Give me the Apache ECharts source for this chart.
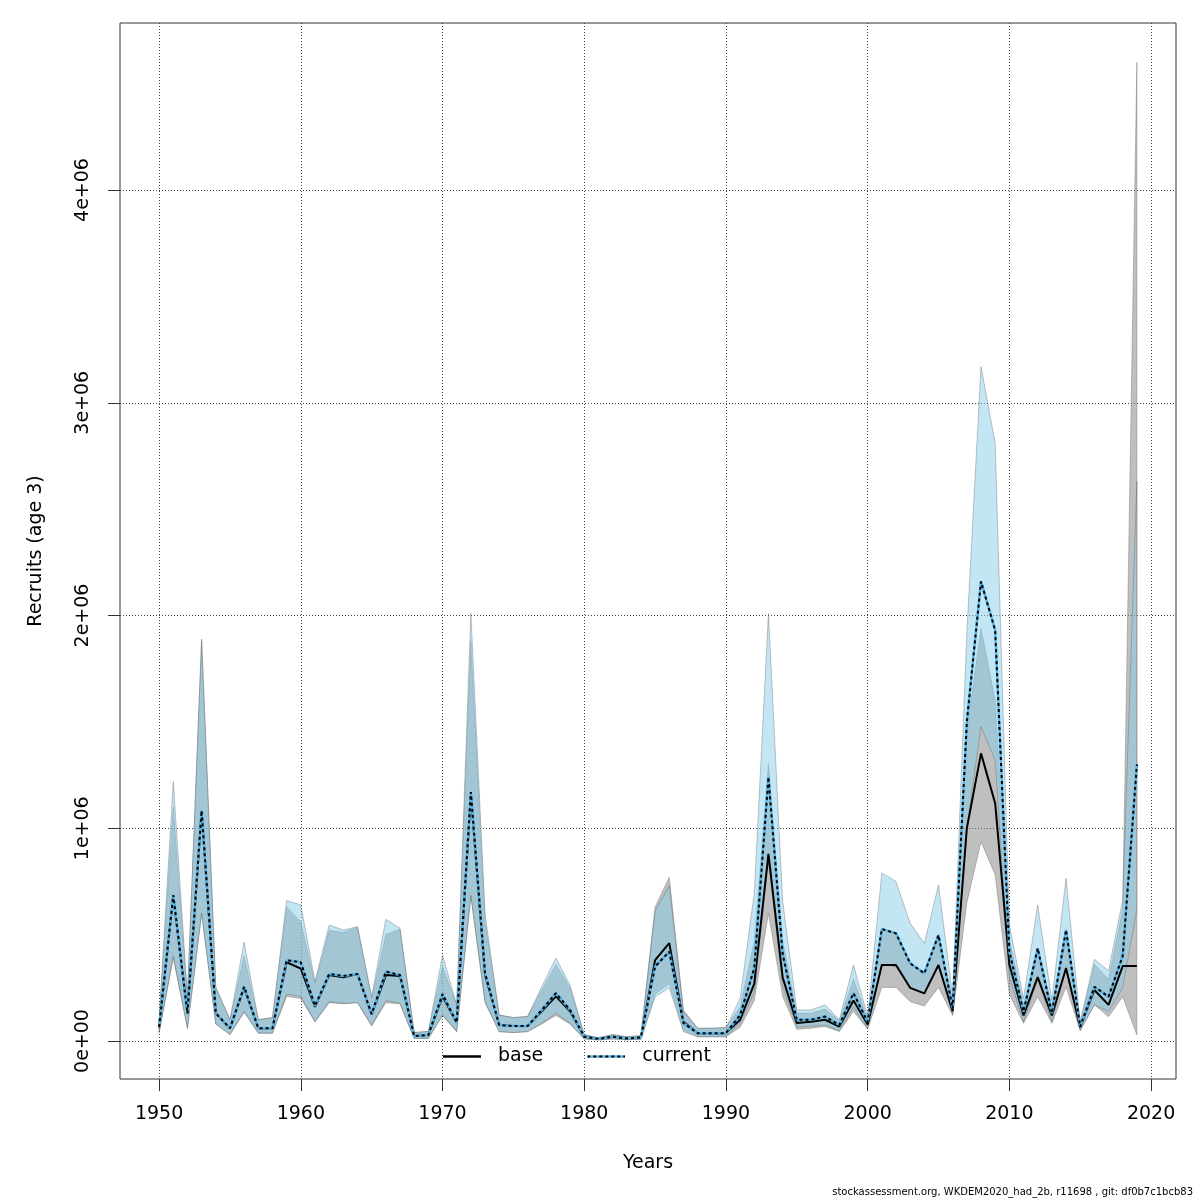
<!DOCTYPE html>
<html>
<head>
<meta charset="utf-8">
<title>Recruits (age 3)</title>
<script src="https://cdn.jsdelivr.net/npm/echarts@6/dist/echarts.min.js"></script>
<style>
  html, body { margin: 0; padding: 0; background: #fff; }
  #chart { width: 1200px; height: 1200px; }
</style>
</head>
<body>
<div id="chart"></div>
<script>
// recruitment estimates with confidence bands, base run vs current run
const years = [
  1950, 1951, 1952, 1953, 1954, 1955, 1956, 1957, 1958, 1959,
  1960, 1961, 1962, 1963, 1964, 1965, 1966, 1967, 1968, 1969,
  1970, 1971, 1972, 1973, 1974, 1975, 1976, 1977, 1978, 1979,
  1980, 1981, 1982, 1983, 1984, 1985, 1986, 1987, 1988, 1989,
  1990, 1991, 1992, 1993, 1994, 1995, 1996, 1997, 1998, 1999,
  2000, 2001, 2002, 2003, 2004, 2005, 2006, 2007, 2008, 2009,
  2010, 2011, 2012, 2013, 2014, 2015, 2016, 2017, 2018, 2019
];

const current = [
  65000, 686000, 130000, 1083000, 130000, 60000, 255000, 60000, 60000, 380000,
  370000, 165000, 315000, 306000, 315000, 127000, 326000, 310000, 23000, 28000,
  221000, 86000, 1170000, 320000, 75000, 70000, 70000, 146000, 225000, 146000,
  20000, 10000, 20000, 12000, 17000, 350000, 420000, 84000, 37000, 37000,
  37000, 122000, 342000, 1240000, 410000, 100000, 100000, 115000, 75000, 225000,
  90000, 526000, 506000, 365000, 318000, 498000, 153000, 1500000, 2160000, 1930000,
  420000, 138000, 436000, 130000, 522000, 67000, 255000, 208000, 400000, 1300000
];
const currentLow = [
  40000, 400000, 60000, 600000, 80000, 30000, 140000, 37000, 37000, 220000,
  210000, 90000, 185000, 177000, 180000, 75000, 190000, 177000, 12000, 12000,
  122000, 44000, 686000, 185000, 44000, 40000, 44000, 84000, 130000, 84000,
  10000, 5000, 10000, 6000, 8000, 208000, 250000, 44000, 20000, 20000,
  20000, 85000, 230000, 850000, 260000, 65000, 70000, 75000, 48000, 160000,
  60000, 360000, 350000, 250000, 224000, 357000, 125000, 1000000, 1477000, 1320000,
  300000, 90000, 290000, 90000, 350000, 50000, 170000, 140000, 250000, 620000
];
const currentHigh = [
  100000, 1220000, 210000, 1890000, 255000, 100000, 465000, 100000, 110000, 660000,
  640000, 280000, 545000, 522000, 537000, 208000, 572000, 530000, 40000, 45000,
  404000, 170000, 2010000, 600000, 122000, 110000, 115000, 255000, 390000, 263000,
  30000, 15000, 30000, 20000, 25000, 610000, 730000, 138000, 60000, 60000,
  63000, 200000, 695000, 2010000, 660000, 146000, 146000, 170000, 100000, 357000,
  115000, 790000, 750000, 553000, 459000, 733000, 210000, 1920000, 3170000, 2810000,
  550000, 200000, 639000, 190000, 765000, 90000, 384000, 330000, 663000, 2630000
];

const base = [
  65000, 680000, 130000, 1080000, 130000, 60000, 250000, 60000, 60000, 370000,
  340000, 160000, 310000, 300000, 315000, 125000, 310000, 305000, 23000, 28000,
  210000, 86000, 1160000, 310000, 75000, 70000, 70000, 140000, 210000, 140000,
  20000, 10000, 20000, 12000, 17000, 380000, 460000, 90000, 37000, 37000,
  37000, 100000, 270000, 880000, 300000, 85000, 90000, 100000, 68000, 190000,
  78000, 357000, 357000, 250000, 224000, 357000, 140000, 1000000, 1352000, 1117000,
  360000, 120000, 300000, 120000, 342000, 65000, 240000, 170000, 352000, 352000
];
const baseLow = [
  40000, 390000, 60000, 600000, 80000, 30000, 135000, 37000, 37000, 210000,
  200000, 90000, 180000, 175000, 180000, 70000, 180000, 175000, 12000, 12000,
  120000, 44000, 680000, 180000, 44000, 40000, 44000, 80000, 120000, 80000,
  10000, 5000, 10000, 6000, 8000, 220000, 270000, 50000, 20000, 20000,
  20000, 65000, 190000, 600000, 210000, 55000, 60000, 68000, 45000, 140000,
  55000, 252000, 252000, 185000, 164000, 252000, 120000, 650000, 937000, 780000,
  220000, 83000, 208000, 83000, 255000, 48000, 170000, 114000, 208000, 28000
];
const baseHigh = [
  95000, 1100000, 200000, 1880000, 250000, 100000, 400000, 100000, 110000, 630000,
  560000, 270000, 520000, 510000, 535000, 200000, 500000, 525000, 40000, 45000,
  350000, 170000, 1880000, 560000, 122000, 110000, 115000, 240000, 360000, 250000,
  30000, 15000, 30000, 20000, 25000, 630000, 770000, 145000, 60000, 60000,
  63000, 160000, 470000, 1300000, 470000, 130000, 130000, 150000, 95000, 290000,
  105000, 530000, 510000, 370000, 320000, 500000, 190000, 1450000, 1940000, 1600000,
  480000, 170000, 430000, 170000, 470000, 85000, 360000, 290000, 620000, 4600000
];

const xTicks = [1950, 1960, 1970, 1980, 1990, 2000, 2010, 2020];
const yTicks = [0, 1000000, 2000000, 3000000, 4000000];
const yTickLabels = ['0e+00', '1e+06', '2e+06', '3e+06', '4e+06'];

const font = 'DejaVu Sans';
const footer = 'stockassessment.org, WKDEM2020_had_2b, r11698 , git: df0b7c1bcb83';

function pairs(values) {
  return years.map((y, i) => [y, values[i]]);
}

// confidence band drawn as one polygon through the axis scales
function bandSeries(name, low, high, fill) {
  return {
    type: 'custom',
    name: name,
    silent: true,
    data: years.map((y, i) => [y, low[i], high[i]]),
    encode: { x: 0, y: [1, 2] },
    renderItem: function (params, api) {
      if (params.dataIndex !== 0) return null;
      const top = years.map((y, i) => api.coord([y, high[i]]));
      const bottom = years.map((y, i) => api.coord([y, low[i]])).reverse();
      return {
        type: 'polygon',
        shape: { points: top.concat(bottom) },
        style: { fill: fill, stroke: 'rgba(90,90,90,0.35)', lineWidth: 1 }
      };
    }
  };
}

function svgIcon(inner) {
  return 'image://data:image/svg+xml;charset=utf-8,' + encodeURIComponent(
    "<svg xmlns='http://www.w3.org/2000/svg' width='38' height='14'>" + inner + "</svg>");
}
const baseIcon = svgIcon("<line x1='0' y1='7' x2='38' y2='7' stroke='#000' stroke-width='2.5'/>");
const currentIcon = svgIcon(
  "<line x1='0' y1='7' x2='38' y2='7' stroke='#5ab4e5' stroke-width='2.5'/>" +
  "<line x1='0' y1='7' x2='38' y2='7' stroke='#000' stroke-width='2' stroke-dasharray='3,3'/>");

var myChart = echarts.init(document.getElementById('chart'));
myChart.setOption({
  animation: false,
  backgroundColor: '#fff',
  textStyle: { fontFamily: font },
  grid: {
    left: 120, top: 23, width: 1056, height: 1056,
    show: true, borderColor: '#333', borderWidth: 1, backgroundColor: 'transparent'
  },
  legend: {
    left: 443, top: 1047, padding: 0,
    itemWidth: 38, itemHeight: 14, itemGap: 44,
    textStyle: { fontFamily: font, fontSize: 19, color: '#000', padding: [0, 0, 0, 12] },
    data: [{ name: 'base', icon: baseIcon }, { name: 'current', icon: currentIcon }]
  },
  xAxis: {
    type: 'value', min: 1947.24, max: 2021.76,
    name: 'Years', nameLocation: 'middle', nameGap: 75,
    nameTextStyle: { fontFamily: font, fontSize: 19, color: '#000' },
    axisLine: { show: false, onZero: false },
    axisTick: { customValues: xTicks, length: 12, lineStyle: { color: '#333' } },
    axisLabel: {
      customValues: xTicks, margin: 26, fontFamily: font, fontSize: 19, color: '#000',
      formatter: function (v) { return String(v); }
    },
    splitLine: { show: true, lineStyle: { color: '#444', type: [1, 2], width: 1 } }
  },
  yAxis: {
    type: 'value', min: -178600, max: 4785000,
    name: 'Recruits (age 3)', nameLocation: 'middle', nameGap: 74,
    nameTextStyle: { fontFamily: font, fontSize: 19, color: '#000' },
    axisLine: { show: false, onZero: false },
    axisTick: { customValues: yTicks, length: 12, lineStyle: { color: '#333' } },
    axisLabel: {
      customValues: yTicks, rotate: 90, margin: 27,
      fontFamily: font, fontSize: 19, color: '#000',
      formatter: function (v) {
        const i = yTicks.indexOf(v);
        return i >= 0 ? yTickLabels[i] : '';
      }
    },
    splitLine: { show: true, lineStyle: { color: '#444', type: [1, 2], width: 1 } }
  },
  graphic: [{
    type: 'text', right: 7, bottom: 3,
    style: { text: footer, font: '10px "DejaVu Sans"', fill: '#000' }
  }],
  series: [
    bandSeries('base band', baseLow, baseHigh, 'rgba(128,128,128,0.5)'),
    {
      name: 'base', type: 'line', data: pairs(base), symbol: 'none',
      lineStyle: { color: '#000', width: 2 }, itemStyle: { color: '#000' }
    },
    bandSeries('current band', currentLow, currentHigh, 'rgba(135,206,235,0.5)'),
    {
      name: 'current', type: 'line', data: pairs(current), symbol: 'none',
      lineStyle: { color: '#5ab4e5', width: 2.5 }, itemStyle: { color: '#5ab4e5' }
    },
    {
      name: 'current', type: 'line', data: pairs(current), symbol: 'none',
      lineStyle: { color: '#000', width: 2, type: [3, 3] }, itemStyle: { color: '#000' }
    }
  ]
});
</script>
</body>
</html>
